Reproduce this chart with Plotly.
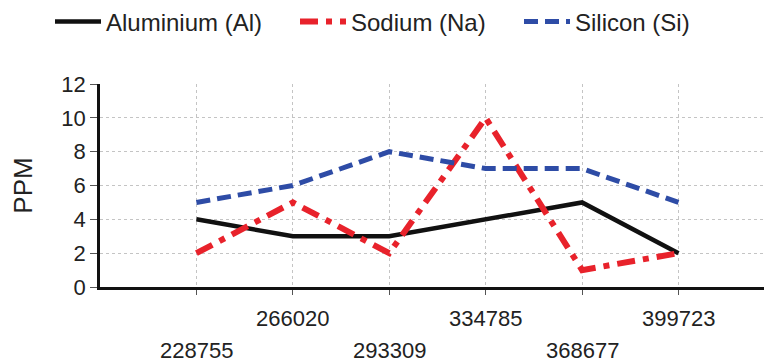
import plotly.graph_objects as go

samples = ["228755", "266020", "293309", "334785", "368677", "399723"]
positions = [1, 2, 3, 4, 5, 6]
aluminium = [4, 3, 3, 4, 5, 2]
sodium = [2, 5, 2, 10, 1, 2]
silicon = [5, 6, 8, 7, 7, 5]
y_ticks = [0, 2, 4, 6, 8, 10, 12]

FONT = "Liberation Sans, Arial, sans-serif"

fig = go.Figure()
fig.add_trace(go.Scatter(x=positions, y=aluminium, mode="lines", name="Aluminium (Al)",
                         line=dict(color="#111111", width=4.5), legend="legend"))
fig.add_trace(go.Scatter(x=positions, y=sodium, mode="lines", name="Sodium (Na)",
                         line=dict(color="#e8222b", width=6, dash="18px,8px,6px,8px"),
                         legend="legend2"))
fig.add_trace(go.Scatter(x=positions, y=silicon, mode="lines", name="Silicon (Si)",
                         line=dict(color="#2e4ca6", width=5, dash="14px,7px"),
                         legend="legend3"))

for i, (p, s) in enumerate(zip(positions, samples)):
    fig.add_annotation(x=p, xref="x", y=0, yref="paper", text=s, showarrow=False,
                       yanchor="middle", xanchor="center",
                       yshift=-63 if i % 2 == 0 else -31,
                       font=dict(family=FONT, size=22, color="#222222"))

W, H = 764, 354


def leg(x):
    return dict(orientation="h", xref="container", yref="container",
                x=x / W, y=1 - 14 / H, xanchor="left", yanchor="middle",
                font=dict(size=24), bgcolor="rgba(0,0,0,0)", itemwidth=46)


fig.update_layout(
    width=W, height=H,
    margin=dict(l=92, r=0, t=76, b=75, autoexpand=False),
    paper_bgcolor="white", plot_bgcolor="white",
    font=dict(family=FONT, size=22, color="#222222"),
    showlegend=True,
    legend=leg(42), legend2=leg(287), legend3=leg(511),
)
fig.update_xaxes(range=[0, 6.97], tickvals=positions, showticklabels=False,
                 ticks="outside", ticklen=5, tickcolor="#555555",
                 showline=True, linecolor="#111111", linewidth=3,
                 showgrid=True, gridcolor="#c4c4c4", griddash="dot", gridwidth=1,
                 zeroline=False, automargin=False)
fig.update_yaxes(range=[0, 12], tickvals=y_ticks, ticks="outside", ticklen=7,
                 tickcolor="#555555", showline=True, linecolor="#111111", linewidth=2.5,
                 showgrid=True, gridcolor="#c4c4c4", griddash="dot", gridwidth=1,
                 zeroline=False, title=dict(text="PPM", standoff=42),
                 tickfont=dict(size=22), automargin=False)

fig.write_html("out.html")
